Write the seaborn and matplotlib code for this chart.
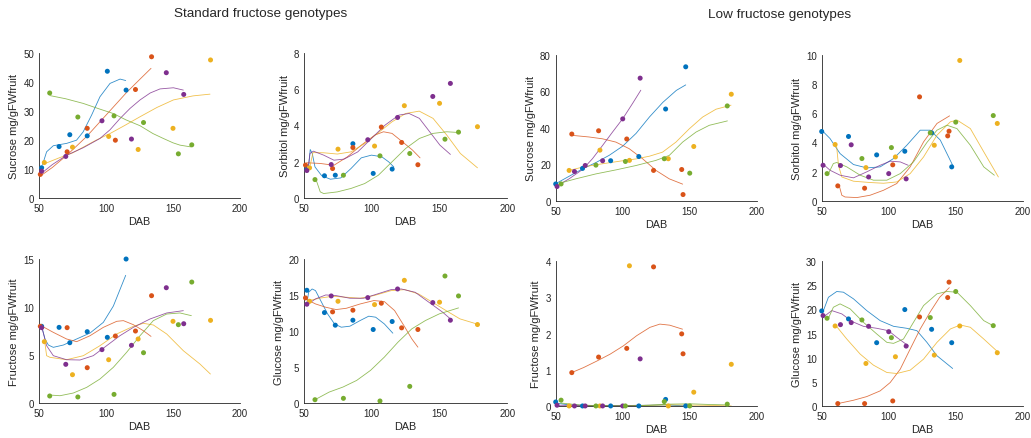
import matplotlib
matplotlib.use("Agg")
import matplotlib.pyplot as plt
import seaborn as sns
import pandas as pd

# ---------------- data ----------------
GENOS = ["G1", "G2", "G3", "G4", "G5"]
COLORS = {"G1": "#0072BD", "G2": "#D95319", "G3": "#EDB120", "G4": "#7E2F8E", "G5": "#77AC30"}

# sampling days (DAB) of each genotype
std_dab = {"G1": [52, 65, 73, 86, 101, 115], "G2": [51, 71, 86, 107, 122, 134],
           "G3": [54, 75, 102, 124, 150, 178], "G4": [52, 70, 97, 119, 145, 158],
           "G5": [58, 79, 106, 128, 154, 164]}
low_dab = {"G1": [50, 70, 91, 112, 132, 147], "G2": [62, 82, 103, 123, 144, 145],
           "G3": [60, 83, 105, 134, 153, 181], "G4": [51, 64, 72, 85, 100, 113],
           "G5": [54, 80, 102, 131, 150, 178]}

# measured values
sucrose_std = {"G1": [10.4, 17.7, 21.8, 21.4, 43.7, 37.2], "G2": [8.1, 15.9, 24.0, 19.9, 37.4, 48.7],
               "G3": [12.2, 17.5, 21.2, 16.7, 24.0, 47.6], "G4": [9.2, 14.3, 26.6, 20.3, 43.2, 35.7],
               "G5": [36.2, 27.9, 28.3, 26.0, 15.2, 18.3]}
sorbitol_std = {"G1": [1.6, 1.22, 1.25, 2.99, 1.35, 1.59], "G2": [1.81, 1.62, 2.78, 3.91, 3.06, 1.83],
                "G3": [1.66, 2.69, 2.86, 5.09, 5.22, 3.93], "G4": [1.51, 1.84, 3.21, 4.44, 5.6, 6.32],
                "G5": [1.01, 1.25, 2.32, 2.45, 3.24, 3.63]}
fructose_std = {"G1": [7.99, 7.88, 6.28, 7.43, 6.84, 15.0], "G2": [7.99, 7.85, 3.68, 6.98, 7.5, 11.18],
                "G3": [6.39, 2.95, 4.51, 6.67, 8.51, 8.61], "G4": [7.85, 4.03, 5.56, 6.01, 12.01, 8.26],
                "G5": [0.73, 0.63, 0.9, 5.24, 8.16, 12.6]}
glucose_std = {"G1": [15.66, 12.56, 10.81, 11.5, 10.21, 11.32], "G2": [14.6, 12.66, 12.89, 13.86, 10.44, 10.21],
               "G3": [14.13, 14.13, 13.67, 17.04, 14.0, 10.9], "G4": [13.72, 14.87, 14.64, 15.84, 13.95, 11.5],
               "G5": [0.46, 0.65, 0.28, 2.31, 17.64, 14.87]}
sucrose_low = {"G1": [9.3, 17.8, 22.0, 24.3, 50.3, 73.4], "G2": [36.6, 38.4, 33.9, 16.7, 17.2, 3.5],
               "G3": [16.7, 27.8, 22.2, 23.1, 29.8, 58.4], "G4": [7.9, 16.1, 19.4, 22.0, 44.9, 67.2],
               "G5": [9.3, 19.6, 21.6, 23.1, 15.2, 52.0]}
sorbitol_low = {"G1": [4.75, 4.41, 3.15, 3.4, 4.66, 2.33], "G2": [1.03, 0.87, 2.47, 7.12, 4.45, 4.77],
                "G3": [3.86, 2.28, 3.01, 3.81, 9.61, 5.3], "G4": [2.44, 2.42, 3.84, 1.64, 1.87, 1.51],
                "G5": [1.87, 2.9, 3.65, 4.66, 5.39, 5.84]}
fructose_low = {"G1": [0.11, 0.0, 0.0, 0.0, 0.18, 0.0], "G2": [0.92, 1.35, 1.59, 3.84, 1.99, 1.44],
                "G3": [0.0, 0.0, 3.87, 0.0, 0.38, 1.15], "G4": [0.02, 0.0, 0.0, 0.0, 0.0, 1.3],
                "G5": [0.16, 0.0, 0.0, 0.12, 0.0, 0.05]}
glucose_low = {"G1": [19.68, 18.02, 13.1, 19.96, 15.87, 13.1], "G2": [0.49, 0.49, 1.04, 18.43, 22.45, 25.64],
               "G3": [16.56, 8.8, 10.19, 10.53, 16.56, 11.02], "G4": [18.71, 16.84, 17.26, 16.49, 15.38, 12.4],
               "G5": [18.16, 17.81, 14.14, 18.3, 23.7, 16.63]}

# fitted smoothing curves as (DAB, value)
sucrose_std_fit = {
    "G1": [(52.7, 11.5), (55.7, 15.9), (60.7, 18), (70.6, 18.8), (78, 19.9), (83, 22.8), (89.3, 28.6), (95.5, 34.9), (103, 39.5), (110.5, 41), (114.7, 40.5)],
    "G2": [(51.5, 7.7), (60, 10.5), (71, 14.8), (85.6, 21.2), (100.5, 28.8), (115.4, 36.4), (125, 40.8), (133.6, 44.7)],
    "G3": [(54.2, 11.8), (65, 13.8), (75, 15.5), (83, 17.5), (93, 20), (103, 22.2), (114, 25), (125.4, 28), (138, 31.2), (150.3, 33.8), (165, 35.2), (177.6, 35.8)],
    "G4": [(52.2, 8.6), (60, 11.5), (70.6, 14.7), (83, 17.3), (95.5, 20.5), (103, 23.5), (110.5, 27.4), (118, 30.9), (125.4, 33.8), (133, 36.2), (140.3, 37.6), (150.3, 38), (157.7, 37.2)],
    "G5": [(58.2, 35.3), (70, 34.2), (83, 32.6), (95, 30.7), (105.5, 29.1), (115, 26.9), (125.4, 24.9), (135, 22.2), (142.8, 20.5), (150, 19), (155.2, 18.2), (163.2, 17.6)],
}
sorbitol_std_fit = {
    "G1": [(53, 1.53), (54.5, 2.67), (56, 2.45), (58, 1.71), (63, 1.22), (69.4, 1.03), (77, 1.1), (84.6, 1.62), (92.2, 2.21), (99.7, 2.36), (107.3, 2.27), (112.4, 1.99), (116.2, 1.71)],
    "G2": [(51.8, 1.94), (61.9, 1.9), (72, 1.8), (82, 2.27), (92.2, 2.91), (102.3, 3.47), (108.6, 3.65), (114.9, 3.56), (122.5, 3.1), (130, 2.64), (135.6, 2.21)],
    "G3": [(54.5, 1.8), (56.5, 2.5), (64.4, 2.49), (74.5, 2.42), (84.6, 2.54), (94.7, 3.0), (104.8, 3.6), (114.9, 4.2), (125, 4.66), (135, 4.79), (145.2, 4.39), (155.3, 3.47), (165.4, 2.45), (178, 1.66)],
    "G4": [(52.8, 1.53), (54.3, 2.45), (56.8, 2.58), (64.4, 2.36), (72, 2.08), (79.5, 2.14), (89.6, 2.54), (99.7, 3.28), (109.8, 4.02), (119.9, 4.57), (127.5, 4.66), (135.1, 4.39), (142.7, 3.65), (150.3, 2.91), (158, 2.4)],
    "G5": [(58.5, 1.07), (61.9, 0.33), (64.4, 0.24), (74.5, 0.33), (84.6, 0.52), (94.7, 0.79), (104.8, 1.25), (114.9, 1.99), (125, 2.73), (135.1, 3.28), (145.2, 3.56), (155.3, 3.65), (164, 3.61)],
}
fructose_std_fit = {
    "G1": [(52, 8), (54.5, 6.67), (57, 6.04), (60.7, 5.8), (68.2, 6.04), (78.1, 6.67), (88.1, 7.29), (98, 8.4), (105.5, 10.1), (114.7, 13.3)],
    "G2": [(51, 8.1), (60.7, 7.36), (70.6, 6.67), (78.1, 6.39), (88.1, 7.01), (98, 7.88), (108, 8.51), (113, 8.58), (120.4, 8.16), (127.9, 7.53), (133.6, 6.94)],
    "G3": [(54.2, 6.5), (55.7, 4.93), (58.2, 4.76), (70.6, 4.51), (83.1, 4.93), (95.5, 5.97), (108, 7.19), (120.4, 7.99), (127.9, 8.3), (135.3, 8.13), (145.3, 7.19), (157.7, 5.45), (170.1, 4.06), (177.9, 3.02)],
    "G4": [(52.2, 7.85), (55.7, 5.97), (60.7, 4.93), (70.6, 4.51), (80.6, 4.48), (90.5, 4.93), (100.5, 5.97), (110.4, 7.01), (120.4, 7.88), (132.8, 8.75), (145.3, 9.38), (157.7, 9.62)],
    "G5": [(58.2, 0.83), (65.7, 0.76), (75.6, 1.04), (85.6, 1.63), (95.5, 2.5), (105.5, 3.72), (115.4, 5.28), (125.4, 7.01), (135.3, 8.58), (145.3, 9.27), (155.2, 9.38), (163.7, 9.1)],
}
glucose_std_fit = {
    "G1": [(52, 13.76), (53.3, 15.38), (55.9, 15.84), (58.4, 15.61), (62.2, 14.23), (67.3, 12.38), (72.4, 10.99), (77.4, 10.53), (83.8, 10.67), (91.4, 11.46), (97.7, 12.06), (102.8, 11.92), (109.2, 10.99), (115.5, 9.7)],
    "G2": [(51, 14.46), (58.4, 13.76), (66, 13.3), (73.6, 12.98), (81.2, 13.16), (91.4, 13.76), (101.5, 14.23), (109.2, 14.09), (116.8, 12.84), (124.4, 10.53), (129.5, 8.91), (134, 7.76)],
    "G3": [(54, 14.23), (61, 14.55), (71, 14.83), (81.2, 14.69), (91.4, 14.55), (101.5, 14.92), (114.2, 15.61), (124.4, 15.75), (134.5, 15.15), (144.7, 14.0), (154.8, 12.84), (165, 11.69), (178, 10.95)],
    "G4": [(52, 13.63), (58.4, 14.46), (66, 15.01), (73.6, 14.92), (83.8, 14.55), (94, 14.55), (104.1, 15.15), (114.2, 15.75), (121.8, 15.84), (132, 15.38), (142.1, 14.0), (152.3, 12.61), (158, 11.69)],
    "G5": [(58, 0.46), (68.5, 1.52), (78.7, 2.22), (88.8, 3.14), (99, 4.53), (109.2, 6.37), (119.3, 8.45), (129.5, 10.3), (139.6, 11.46), (149.8, 12.38), (164, 13.21)],
}
sucrose_low_fit = {
    "G1": [(50.2, 9.5), (60, 13.5), (70, 17.5), (80, 21), (90, 25), (100, 30), (110, 37), (120, 46), (130, 54), (140, 60.5), (147, 63.5)],
    "G2": [(62.2, 35.9), (74.9, 35), (84.9, 34), (94.9, 32.2), (104.8, 28.6), (114.8, 23.1), (124.8, 16.7), (134.7, 12.1), (144.7, 9.2)],
    "G3": [(60, 16.7), (70, 18.5), (80, 19.8), (90, 20.9), (100, 22), (110, 23), (120, 24.5), (129.7, 26.7), (139.7, 32.2), (149.7, 39.5), (159.6, 45.9), (169.6, 50.2), (180.8, 52.4)],
    "G4": [(51.2, 8.4), (60, 12.1), (70, 17.2), (77.4, 23.1), (85, 30.4), (92.4, 37.7), (100, 45), (107.3, 53.3), (113.5, 60.6)],
    "G5": [(54, 9.9), (65, 12.1), (80, 14.8), (95, 17), (110, 19.4), (124.8, 22.2), (134.7, 24.9), (144.7, 32.2), (154.7, 37.7), (164.6, 41.4), (178.1, 43.8)],
}
sorbitol_low_fit = {
    "G1": [(51, 4.75), (56.2, 4.27), (63.7, 3.24), (73.7, 2.49), (83.6, 2.26), (93.6, 2.33), (103.6, 2.9), (113.5, 3.81), (123.5, 4.84), (131, 4.84), (138.5, 4.16), (147.7, 2.44)],
    "G2": [(63, 1.07), (65, 0.39), (67.4, 0.27), (76.2, 0.23), (86.1, 0.39), (96.1, 0.73), (106, 1.19), (116, 2.33), (126, 4.04), (136, 5.3), (145.4, 5.82)],
    "G3": [(61, 3.86), (62.5, 2.44), (65, 1.64), (73.7, 1.35), (86.1, 1.26), (96.1, 1.21), (106, 1.3), (116, 1.87), (126, 3.01), (136, 4.5), (146, 5.41), (151, 5.53), (160.9, 4.95), (170.9, 3.36), (181.8, 1.64)],
    "G4": [(52, 2.44), (56.2, 2.1), (63.7, 1.76), (73.7, 1.58), (83.6, 1.99), (93.6, 2.44), (101.1, 2.72), (108.6, 2.67), (114.5, 2.44)],
    "G5": [(55, 1.87), (58.7, 2.56), (61.2, 2.63), (68.7, 2.33), (78.7, 1.76), (88.6, 1.42), (98.6, 1.42), (108.6, 1.87), (118.5, 2.67), (128.5, 4.0), (136, 4.84), (143.4, 5.18), (150.9, 4.95), (160.9, 3.81), (170.9, 2.33), (178.8, 1.76)],
}
fructose_low_fit = {
    "G1": [(50, 0.08), (60, 0.03), (80, 0.01), (100, 0.01), (120, 0.02), (132, 0.03), (147, 0.0)],
    "G2": [(63.1, 0.94), (70.8, 1.06), (80.7, 1.24), (90.6, 1.43), (100.5, 1.66), (110.4, 1.94), (120.3, 2.17), (127.7, 2.26), (135.1, 2.23), (144.6, 2.12)],
    "G3": [(60, 0.0), (100, 0.0), (120, 0.02), (135, 0.03), (160, 0.02), (181, 0.0)],
    "G4": [(51, 0.02), (70, 0.01), (90, 0.0), (113, 0.02)],
    "G5": [(54, 0.08), (70, 0.02), (100, 0.0), (120, 0.02), (135, 0.05), (150, 0.06), (165, 0.04), (178, 0.03)],
}
glucose_low_fit = {
    "G1": [(51, 19.54), (55, 22.5), (61.2, 23.7), (66.2, 23.56), (73.7, 22.18), (83.6, 19.75), (93.6, 17.67), (103.6, 16.49), (113.5, 16.08), (121, 15.59), (128.5, 13.17), (136, 10.4), (147.7, 7.76)],
    "G2": [(63, 0.55), (73.7, 1.18), (83.6, 1.94), (93.6, 3.12), (101.1, 4.85), (108.6, 7.62), (116, 11.78), (123.5, 15.94), (131, 19.5), (138, 22.5), (145.2, 24.5)],
    "G3": [(61, 16.5), (68.7, 13.86), (78.7, 10.74), (88.6, 8.45), (98.6, 6.93), (106, 6.72), (116, 7.41), (126, 9.7), (136, 13.17), (146, 15.94), (153.4, 16.77), (160.9, 16.29), (170.9, 13.86), (181.8, 11.09)],
    "G4": [(52, 18.57), (57.5, 19.75), (65, 19.06), (72.9, 17.46), (81.1, 16.49), (91.1, 16.08), (99.8, 15.59), (106, 14.21), (114.5, 12.47)],
    "G5": [(55, 18.16), (58.7, 20.44), (63.7, 21.14), (71.2, 20.1), (81.1, 17.33), (91.1, 14.9), (98.6, 13.17), (103.6, 12.96), (111, 13.86), (118.5, 17.33), (126, 20.79), (136, 23.22), (143.4, 23.7), (150.9, 23.56), (160.9, 20.79), (170.9, 17.67), (178.8, 16.49)],
}

y_labels = ["Sucrose mg/gFWfruit", "Sorbitol mg/gFWfruit", "Fructose mg/gFWfruit", "Glucose mg/gFWfruit"]
titles = ["Standard fructose genotypes", "Low fructose genotypes"]

# ---------------- plotting ----------------
sns.set_theme(style="white")
plt.rcParams["font.family"] = ["Liberation Sans", "DejaVu Sans"]
plt.rcParams["axes.edgecolor"] = "#262626"
plt.rcParams["xtick.color"] = "#262626"
plt.rcParams["ytick.color"] = "#262626"

fig = plt.figure(figsize=(10.31, 4.39), dpi=100)

panels = [
    # (values, fit, dab, ylabel, yticks, axes rect)
    (sucrose_std, sucrose_std_fit, std_dab, y_labels[0], [0, 10, 20, 30, 40, 50], [0.0378, 0.547, 0.195, 0.330]),
    (sorbitol_std, sorbitol_std_fit, std_dab, y_labels[1], [0, 2, 4, 6, 8], [0.295, 0.547, 0.197, 0.330]),
    (sucrose_low, sucrose_low_fit, low_dab, y_labels[0], [0, 20, 40, 60, 80], [0.539, 0.540, 0.195, 0.333]),
    (sorbitol_low, sorbitol_low_fit, low_dab, y_labels[1], [0, 2, 4, 6, 8, 10], [0.797, 0.540, 0.195, 0.333]),
    (fructose_std, fructose_std_fit, std_dab, y_labels[2], [0, 5, 10, 15], [0.0378, 0.0797, 0.195, 0.328]),
    (glucose_std, glucose_std_fit, std_dab, y_labels[3], [0, 5, 10, 15, 20], [0.295, 0.0797, 0.197, 0.328]),
    (fructose_low, fructose_low_fit, low_dab, y_labels[2], [0, 1, 2, 3, 4], [0.539, 0.073, 0.195, 0.330]),
    (glucose_low, glucose_low_fit, low_dab, y_labels[3], [0, 5, 10, 15, 20, 25, 30], [0.797, 0.073, 0.195, 0.330]),
]

for vals, fit, dab, ylab, yticks, rect in panels:
    ax = fig.add_axes(rect)
    pts = pd.DataFrame([(g, x, y) for g in GENOS for x, y in zip(dab[g], vals[g])],
                       columns=["geno", "DAB", "val"])
    crv = pd.DataFrame([(g, i, x, y) for g in GENOS for i, (x, y) in enumerate(fit[g])],
                       columns=["geno", "i", "DAB", "val"])
    sns.lineplot(data=crv, x="DAB", y="val", hue="geno", palette=COLORS, hue_order=GENOS,
                 sort=False, estimator=None, linewidth=0.6, alpha=0.8, legend=False, ax=ax)
    sns.scatterplot(data=pts, x="DAB", y="val", hue="geno", palette=COLORS, hue_order=GENOS,
                    s=13, linewidth=0, legend=False, ax=ax, zorder=3, clip_on=False)
    ax.set_xlim(50, 200)
    ax.set_ylim(yticks[0], yticks[-1])
    ax.set_xticks([50, 100, 150, 200])
    ax.set_yticks(yticks)
    ax.set_xlabel("DAB", fontsize=7.8, color="#262626", labelpad=2)
    ax.set_ylabel(ylab, fontsize=8, color="#262626", labelpad=3)
    ax.tick_params(direction="in", length=2.5, width=0.5, labelsize=7, pad=3.5)
    for s in ["top", "right"]:
        ax.spines[s].set_visible(False)
    for s in ["left", "bottom"]:
        ax.spines[s].set_linewidth(0.6)
    ax.grid(False)

fig.text(261 / 1031, 1 - 14 / 439, titles[0], ha="center", va="center", fontsize=9.7, color="#262626")
fig.text(780 / 1031, 1 - 15 / 439, titles[1], ha="center", va="center", fontsize=9.7, color="#262626")

fig.savefig("out.png", dpi=100, facecolor="white")
